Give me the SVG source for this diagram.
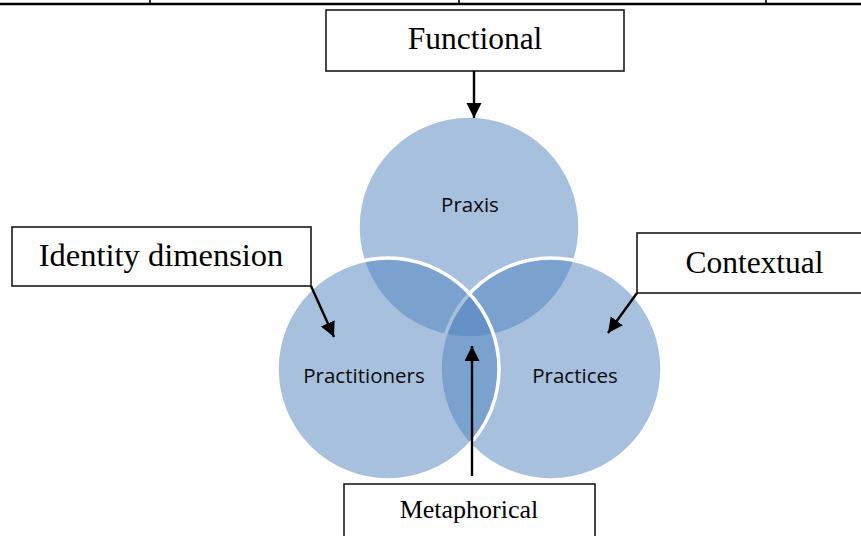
<svg xmlns="http://www.w3.org/2000/svg" width="861" height="536" viewBox="0 0 861 536">
  <style>
    .venn { fill: #4F81BD; fill-opacity: 0.5; stroke: #ffffff; stroke-width: 3.5; }
    .vlabel { font-family: "Open Sans", "Liberation Sans", sans-serif; font-size: 20.5px; fill: #0a0a0a; text-anchor: middle; }
    .box { fill: #ffffff; stroke: #1a1a1a; stroke-width: 1.6; }
    .blabel { font-family: "Liberation Serif", "Times New Roman", serif; fill: #000000; text-anchor: middle; }
    .rule { stroke: #000000; fill: none; }
    .arrow { stroke: #000000; stroke-width: 2.4; fill: none; marker-end: url(#head); }
  </style>
  <defs>
    <marker id="head" markerUnits="userSpaceOnUse" markerWidth="16" markerHeight="16" refX="15" refY="7.5" orient="auto">
      <path d="M0,0 L15,7.5 L0,15 Z" fill="#000000"/>
    </marker>
  </defs>

  <rect x="0" y="0" width="861" height="536" fill="#ffffff"/>

  <!-- table rule along the top edge -->
  <g id="top-rule">
    <line class="rule" x1="0" y1="4" x2="861" y2="4" stroke-width="2.4"/>
    <line class="rule" x1="150" y1="0" x2="150" y2="4" stroke-width="1.6"/>
    <line class="rule" x1="459" y1="0" x2="459" y2="4" stroke-width="1.6"/>
    <line class="rule" x1="766" y1="0" x2="766" y2="4" stroke-width="1.6"/>
  </g>

  <!-- Venn circles: drawn top, right, left -->
  <g id="praxis">
    <circle class="venn" cx="469" cy="227" r="111"/>
  </g>
  <g id="practices">
    <circle class="venn" cx="551" cy="369" r="111"/>
  </g>
  <g id="practitioners">
    <circle class="venn" cx="388" cy="369" r="111"/>
  </g>

  <g id="venn-labels">
    <text class="vlabel" x="470" y="212">Praxis</text>
    <text class="vlabel" x="364" y="383">Practitioners</text>
    <text class="vlabel" x="575" y="383">Practices</text>
  </g>

  <!-- label boxes -->
  <g id="functional">
    <rect class="box" x="326" y="10" width="298" height="61"/>
    <text class="blabel" x="475" y="49" font-size="31.5">Functional</text>
  </g>
  <g id="identity-dimension">
    <rect class="box" x="12" y="227" width="299" height="59"/>
    <text class="blabel" x="161" y="266" font-size="32.5">Identity dimension</text>
  </g>
  <g id="contextual">
    <rect class="box" x="637" y="233" width="240" height="60"/>
    <text class="blabel" x="754.5" y="273" font-size="31.5">Contextual</text>
  </g>
  <g id="metaphorical">
    <rect class="box" x="344" y="484" width="251" height="70"/>
    <text class="blabel" x="469" y="518" font-size="26">Metaphorical</text>
  </g>

  <!-- connectors -->
  <g id="connectors">
    <line class="arrow" x1="474" y1="71" x2="474" y2="118"/>
    <line class="arrow" x1="311" y1="286" x2="334" y2="337"/>
    <line class="arrow" x1="637" y1="293" x2="608" y2="333"/>
    <line class="arrow" x1="472" y1="476" x2="472" y2="346"/>
  </g>
</svg>
